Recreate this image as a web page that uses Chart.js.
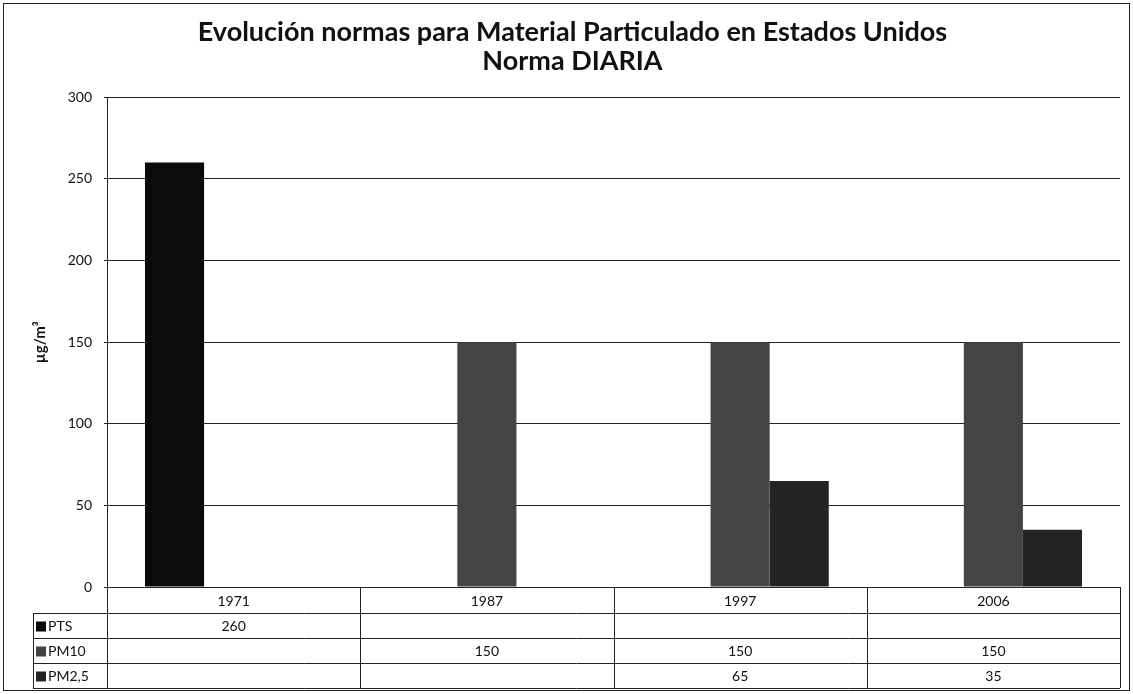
<!DOCTYPE html>
<html>
<head>
<meta charset="utf-8">
<script src="https://cdn.jsdelivr.net/npm/chart.js@4"></script>
<style>
  html, body { margin: 0; padding: 0; background: #fff; }
  #wrap { position: relative; width: 1133px; height: 694px; }
  #frame { position: absolute; left: 3px; top: 3px; width: 1125px; height: 686px; border: 1px solid #222; pointer-events: none; }
</style>
</head>
<body>
<div id="wrap">
  <canvas id="chart" width="1133" height="694"></canvas>
  <div id="frame"></div>
</div>
<script>
// data
const years = ['1971', '1987', '1997', '2006'];
const pts = [260, null, null, null];
const pm10 = [null, 150, 150, 150];
const pm25 = [null, null, 65, 35];
const seriesNames = ['PTS', 'PM10', 'PM2,5'];
const seriesColors = ['#0b0b0b', '#444444', '#242424'];

const fontFamily = 'Lato, "Open Sans", sans-serif';

// draws the data table under the plot, from the x scale and the series arrays
const dataTable = {
    id: 'dataTable',
    afterDraw(chart) {
        const ctx = chart.ctx;
        const area = chart.chartArea;
        const x = chart.scales.x;
        const catW = (area.right - area.left) / years.length;
        const rowTop = area.bottom;
        const headH = 26;
        const rowH = 25;
        const legendLeft = 33;
        const rows = [pts, pm10, pm25];
        const tableBottom = rowTop + headH + rowH * rows.length;

        ctx.save();
        ctx.strokeStyle = '#222';
        ctx.lineWidth = 1;
        ctx.beginPath();
        // vertical lines at category boundaries
        for (let i = 0; i <= years.length; i++) {
            const px = Math.round(area.left + catW * i) + 0.5;
            ctx.moveTo(px, rowTop);
            ctx.lineTo(px, tableBottom);
        }
        ctx.moveTo(legendLeft + 0.5, rowTop + headH);
        ctx.lineTo(legendLeft + 0.5, tableBottom);
        // horizontal lines
        for (let r = 0; r <= rows.length; r++) {
            const py = Math.round(rowTop + headH + rowH * r) + 0.5;
            ctx.moveTo(legendLeft, py);
            ctx.lineTo(area.right, py);
        }
        ctx.stroke();

        ctx.fillStyle = '#111';
        ctx.font = '14px ' + fontFamily;
        ctx.textAlign = 'center';
        ctx.textBaseline = 'middle';
        years.forEach((y, i) => {
            ctx.fillText(y, x.getPixelForValue(i), rowTop + headH / 2 + 1);
        });
        rows.forEach((vals, r) => {
            const cy = rowTop + headH + rowH * r + rowH / 2 + 1;
            vals.forEach((v, i) => {
                if (v !== null) ctx.fillText(String(v), x.getPixelForValue(i), cy);
            });
            ctx.fillStyle = seriesColors[r];
            ctx.fillRect(legendLeft + 3, cy - 5, 10, 10);
            ctx.fillStyle = '#111';
            ctx.textAlign = 'left';
            ctx.fillText(seriesNames[r], legendLeft + 15, cy);
            ctx.textAlign = 'center';
        });
        ctx.restore();
    }
};

new Chart(document.getElementById('chart'), {
    type: 'bar',
    data: {
        labels: years,
        datasets: [
            { label: seriesNames[0], data: pts, backgroundColor: seriesColors[0] },
            { label: seriesNames[1], data: pm10, backgroundColor: seriesColors[1] },
            { label: seriesNames[2], data: pm25, backgroundColor: seriesColors[2] }
        ]
    },
    options: {
        responsive: false,
        animation: false,
        datasets: { bar: { categoryPercentage: 0.7, barPercentage: 1 } },
        layout: { padding: { top: 4, right: 13, bottom: 107, left: 25 } },
        plugins: {
            legend: { display: false },
            tooltip: { enabled: false },
            title: {
                display: true,
                text: ['Evolución normas para Material Particulado en Estados Unidos', 'Norma DIARIA'],
                color: '#111',
                font: { family: fontFamily, size: 27, weight: 'bold', lineHeight: 1.08 },
                padding: { top: 14, bottom: 21 }
            }
        },
        scales: {
            x: {
                display: false
            },
            y: {
                min: 0,
                max: 300,
                ticks: { stepSize: 50, color: '#111', padding: 12, font: { family: fontFamily, size: 14 } },
                grid: { color: '#222', tickLength: 3 },
                border: { color: '#222' },
                title: { display: true, text: 'µg/m³', color: '#111', font: { family: fontFamily, size: 15, weight: 'bold' }, padding: 6 },
                afterFit(scale) { scale.width = 82; }
            }
        }
    },
    plugins: [dataTable]
});
</script>
</body>
</html>
